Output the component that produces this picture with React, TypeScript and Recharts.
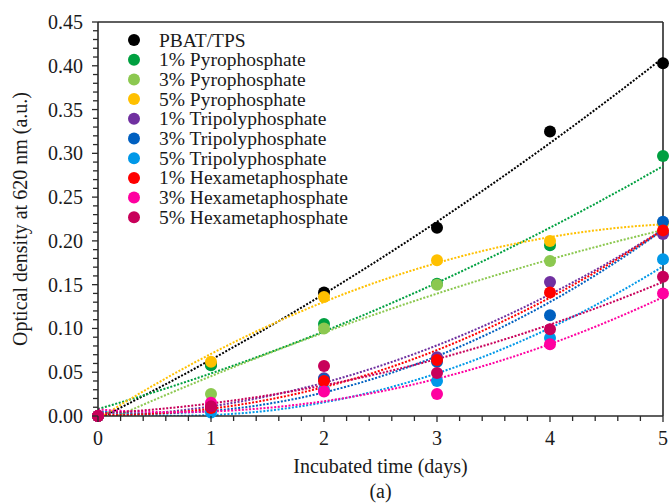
import React from 'react';
import { ComposedChart, Scatter, Line, XAxis, YAxis, ReferenceLine } from 'recharts';

const days = [0, 1, 2, 3, 4, 5];
const seriesNames = [
  'PBAT/TPS',
  '1% Pyrophosphate',
  '3% Pyrophosphate',
  '5% Pyrophosphate',
  '1% Tripolyphosphate',
  '3% Tripolyphosphate',
  '5% Tripolyphosphate',
  '1% Hexametaphosphate',
  '3% Hexametaphosphate',
  '5% Hexametaphosphate',
];
const seriesColors = [
  '#000000', '#00A040', '#8CC850', '#FFC000', '#7030A0',
  '#0060C0', '#0098E8', '#FF0000', '#FF00A0', '#C8005A',
];

const pbatTps = [0, 0.059, 0.141, 0.215, 0.325, 0.403];
const pyro1 = [0, 0.058, 0.105, 0.151, 0.195, 0.297];
const pyro3 = [0, 0.025, 0.100, 0.150, 0.177, 0.210];
const pyro5 = [0, 0.062, 0.136, 0.178, 0.200, 0.220];
const tripoly1 = [0, 0.010, 0.043, 0.067, 0.153, 0.208];
const tripoly3 = [0, 0.008, 0.042, 0.062, 0.115, 0.222];
const tripoly5 = [0, 0.004, 0.030, 0.040, 0.089, 0.179];
const hexa1 = [0, 0.009, 0.040, 0.064, 0.141, 0.212];
const hexa3 = [0, 0.015, 0.028, 0.025, 0.082, 0.140];
const hexa5 = [0, 0.011, 0.057, 0.049, 0.099, 0.159];

const allSeries = [pbatTps, pyro1, pyro3, pyro5, tripoly1, tripoly3, tripoly5, hexa1, hexa3, hexa5];

const xMajorTicks = [0, 1, 2, 3, 4, 5];
const yMajorTicks = [0, 0.05, 0.1, 0.15, 0.2, 0.25, 0.3, 0.35, 0.4, 0.45];
const xMinorStep = 0.2;
const yMinorStep = 0.01;

const xTicks: number[] = [];
for (let i = 0; i <= 25; i++) xTicks.push(+(i * xMinorStep).toFixed(2));
const yTicks: number[] = [];
for (let i = 0; i <= 45; i++) yTicks.push(+(i * yMinorStep).toFixed(2));

// Excel-style 2nd order polynomial trendline (least squares) from the data
function quadFit(xs: number[], ys: number[]) {
  let s0 = 0, s1 = 0, s2 = 0, s3 = 0, s4 = 0, t0 = 0, t1 = 0, t2 = 0;
  for (let i = 0; i < xs.length; i++) {
    const x = xs[i], y = ys[i];
    s0 += 1; s1 += x; s2 += x * x; s3 += x * x * x; s4 += x * x * x * x;
    t0 += y; t1 += x * y; t2 += x * x * y;
  }
  const M = [
    [s0, s1, s2, t0],
    [s1, s2, s3, t1],
    [s2, s3, s4, t2],
  ];
  for (let c = 0; c < 3; c++) {
    for (let r = c + 1; r < 3; r++) {
      const f = M[r][c] / M[c][c];
      for (let k = c; k < 4; k++) M[r][k] -= f * M[c][k];
    }
  }
  const sol = [0, 0, 0];
  for (let r = 2; r >= 0; r--) {
    let s = M[r][3];
    for (let k = r + 1; k < 3; k++) s -= M[r][k] * sol[k];
    sol[r] = s / M[r][r];
  }
  return sol; // a0 + a1 x + a2 x^2
}

const fits = allSeries.map((ys) => quadFit(days, ys));
const trendRows: any[] = [];
for (let i = 0; i <= 100; i++) {
  const x = i * 0.05;
  const row: any = { x };
  fits.forEach((c, k) => {
    row['f' + k] = c[0] + c[1] * x + c[2] * x * x;
  });
  trendRows.push(row);
}

const scatterData = allSeries.map((ys) => days.map((d, i) => ({ x: d, y: ys[i] })));

const FONT = '"Liberation Serif", "Times New Roman", serif';
const AXIS = '#2a2a2a';
const TEXT = '#1a1a1a';

const isMajor = (v: number, step: number) => Math.abs(v / step - Math.round(v / step)) < 1e-6;

const YTick = (props: any) => {
  const { x, y, payload } = props;
  const v = payload.value as number;
  const major = isMajor(v, 0.05);
  return (
    <g>
      <line x1={x} x2={x - (major ? 6 : 5)} y1={y} y2={y} stroke={AXIS} strokeWidth={1.3} />
      {major && (
        <text x={x - 15} y={y} textAnchor="end" dominantBaseline="central" fontFamily={FONT} fontSize={20} fill={TEXT}>
          {v.toFixed(2)}
        </text>
      )}
    </g>
  );
};

const XTick = (props: any) => {
  const { x, y, payload } = props;
  const v = payload.value as number;
  const major = isMajor(v, 1);
  return (
    <g>
      <line x1={x} x2={x} y1={y} y2={y + (major ? 6 : 5)} stroke={AXIS} strokeWidth={1.3} />
      {major && (
        <text x={x} y={y + 22} textAnchor="middle" dominantBaseline="central" fontFamily={FONT} fontSize={20} fill={TEXT}>
          {String(v)}
        </text>
      )}
    </g>
  );
};

const Dot = (color: string) => (props: any) => {
  const { cx, cy } = props;
  if (cx == null || cy == null) return <g />;
  return <circle cx={cx} cy={cy} r={6} fill={color} />;
};

export default function App() {
  return (
    <div style={{ position: 'absolute', left: 0, top: 0, width: 669, height: 503, background: '#fff' }}>
      <ComposedChart
        width={669}
        height={503}
        data={trendRows}
        margin={{ top: 22, right: 6, bottom: 0, left: 0 }}
      >
        <XAxis
          dataKey="x"
          type="number"
          domain={[0, 5]}
          ticks={xTicks}
          interval={0}
          tickSize={0}
          tickMargin={0}
          tickLine={false}
          tick={<XTick />}
          height={87}
          axisLine={{ stroke: AXIS, strokeWidth: 1.6 }}
        />
        <YAxis
          dataKey="y"
          type="number"
          domain={[0, 0.45]}
          ticks={yTicks}
          interval={0}
          tickSize={0}
          tickMargin={0}
          tickLine={false}
          tick={<YTick />}
          width={98}
          axisLine={{ stroke: AXIS, strokeWidth: 1.6 }}
        />
        <YAxis yAxisId="fit" type="number" domain={[0, 0.45]} allowDataOverflow hide />
        <ReferenceLine y={0.45} stroke={AXIS} strokeWidth={1.6} />
        <ReferenceLine x={5} stroke={AXIS} strokeWidth={1.6} />
        {fits.map((_, k) => (
          <Line
            key={'fit' + k}
            yAxisId="fit"
            dataKey={'f' + k}
            type="linear"
            stroke={seriesColors[k]}
            strokeWidth={2}
            strokeDasharray="2 1.6"
            dot={false}
            activeDot={false}
            isAnimationActive={false}
          />
        ))}
        {scatterData.map((d, k) => (
          <Scatter
            key={'sc' + k}
            name={seriesNames[k]}
            data={d}
            dataKey="y"
            fill={seriesColors[k]}
            shape={Dot(seriesColors[k])}
            isAnimationActive={false}
          />
        ))}
      </ComposedChart>

      <svg width={669} height={503} style={{ position: 'absolute', left: 0, top: 0, pointerEvents: 'none' }}>
        {seriesNames.map((n, i) => {
          const cy = 40 + i * 19.7;
          return (
            <g key={n}>
              <circle cx={134} cy={cy} r={6} fill={seriesColors[i]} />
              <text x={159} y={cy} dominantBaseline="central" fontFamily={FONT} fontSize={19.5} fill={TEXT}>
                {n}
              </text>
            </g>
          );
        })}
        <text x={380.5} y={466} textAnchor="middle" dominantBaseline="central" fontFamily={FONT} fontSize={20} fill={TEXT}>
          Incubated time (days)
        </text>
        <text x={380.5} y={491} textAnchor="middle" dominantBaseline="central" fontFamily={FONT} fontSize={20} fill={TEXT}>
          (a)
        </text>
        <text
          x={20}
          y={219}
          textAnchor="middle"
          dominantBaseline="central"
          fontFamily={FONT}
          fontSize={20}
          fill={TEXT}
          transform="rotate(-90 20 219)"
        >
          Optical density at 620 nm (a.u.)
        </text>
      </svg>
    </div>
  );
}
